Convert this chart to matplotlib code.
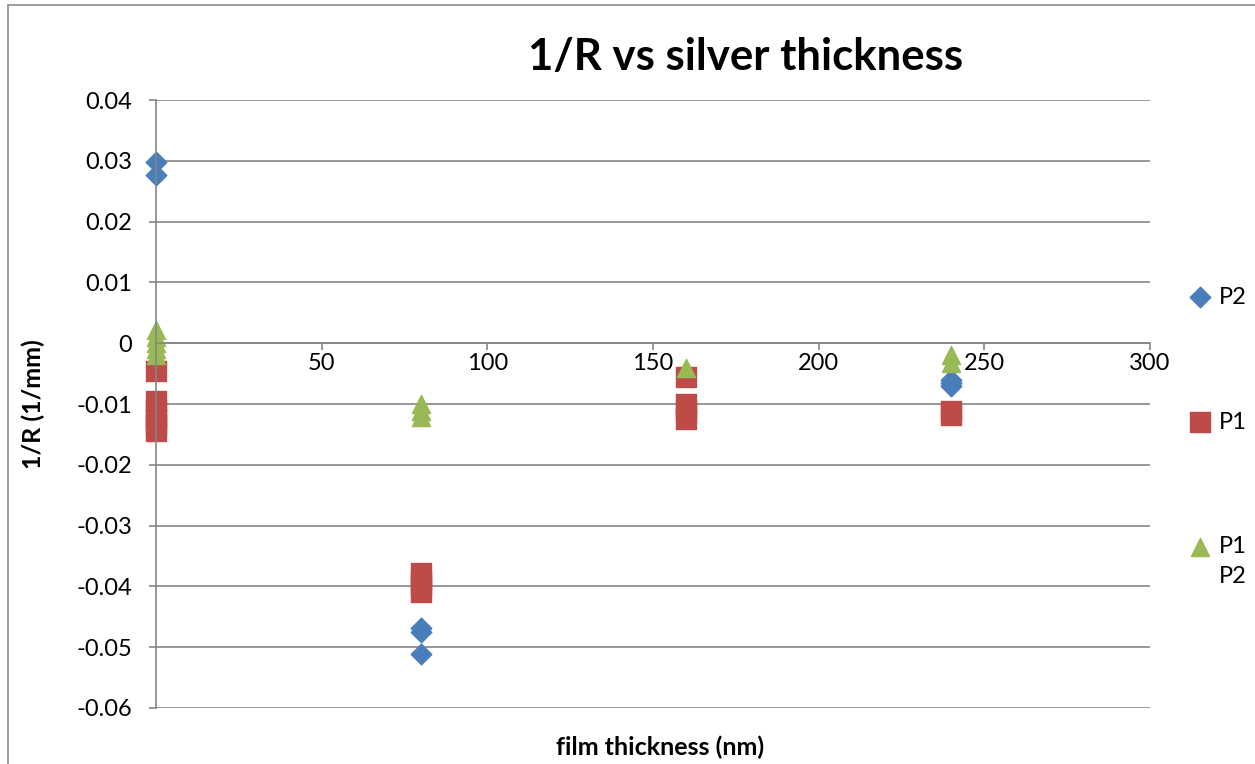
import matplotlib.pyplot as plt
from matplotlib.patches import Rectangle

plt.rcParams['font.family'] = ['Lato', 'DejaVu Sans']

# thickness (nm) and 1/R (1/mm) for each series
p2_x = [0, 0, 80, 80, 80, 240, 240, 240]
p2_y = [0.0298, 0.0276, -0.0468, -0.0475, -0.0512, -0.0060, -0.0065, -0.0070]

p1_x = [0, 0, 0, 0, 0, 0, 80, 80, 80, 80, 160, 160, 160, 160, 240, 240]
p1_y = [-0.0045, -0.0095, -0.0110, -0.0125, -0.0135, -0.0145,
        -0.0378, -0.0390, -0.0400, -0.0410,
        -0.0055, -0.0100, -0.0112, -0.0125,
        -0.0112, -0.0118]

p12_x = [0, 0, 0, 0, 0, 80, 80, 80, 160, 240, 240]
p12_y = [0.0022, 0.0010, 0.0, -0.0010, -0.0020,
         -0.0100, -0.0112, -0.0122, -0.0040, -0.0020, -0.0032]

xticks = [0, 50, 100, 150, 200, 250, 300]
yticks = [0.04, 0.03, 0.02, 0.01, 0, -0.01, -0.02, -0.03, -0.04, -0.05, -0.06]

fig = plt.figure(figsize=(12.55, 7.64), dpi=100)
ax = fig.add_axes([0.1243, 0.0733, 0.7920, 0.7958])

# outer chart frame
fig.patches.append(Rectangle((8 / 1255, -0.1), 2, 1.1 - 5 / 764, transform=fig.transFigure,
                             fill=False, edgecolor='#8c8c8c', linewidth=1.2))

ax.scatter(p2_x, p2_y, marker='D', s=110, color='#4a7ebb', label='P2', zorder=2, clip_on=False)
ax.scatter(p1_x, p1_y, marker='s', s=200, color='#be4b48', label='P1', zorder=2, clip_on=False)
ax.scatter(p12_x, p12_y, marker='^', s=170, color='#98b954', label='P1\nP2', zorder=2.1, clip_on=False)

ax.set_xlim(0, 300)
ax.set_ylim(-0.06, 0.04)
ax.set_xticks(xticks)
ax.set_yticks(yticks)
ax.set_yticklabels(['0' if v == 0 else f'{v:.2f}' for v in yticks])

for v in yticks:
    ax.axhline(v, color='#868686', linewidth=1.2, zorder=1)

for s in ['top', 'right']:
    ax.spines[s].set_visible(False)
ax.spines['bottom'].set_position(('data', 0))
for s in ['bottom', 'left']:
    ax.spines[s].set_color('#868686')
    ax.spines[s].set_linewidth(1.2)
ax.tick_params(axis='both', colors='#868686', labelcolor='black', labelsize=17, length=5, width=1.2)
ax.tick_params(axis='y', pad=12)
ax.tick_params(axis='x', pad=2)

ax.set_title('1/R vs silver thickness', fontsize=31.5, fontweight='bold', x=0.593, y=1.035)
ax.set_xlabel('film thickness (nm)', fontsize=18, fontweight='bold')
ax.xaxis.set_label_coords(0.507, -0.045)
ax.set_ylabel('1/R (1/mm)', fontsize=18, fontweight='bold')
ax.yaxis.set_label_coords(-0.112, 0.5)

leg = ax.legend(loc='center left', bbox_to_anchor=(1.038, 0.446), frameon=False, fontsize=17,
                labelspacing=4.4, handlelength=1.0, handletextpad=0.3, borderpad=0, borderaxespad=0)
leg.get_texts()[2].set_linespacing(1.5)
# keep each marker level with the first line of its label
for col in leg._legend_handle_box.get_children():
    for row in col.get_children():
        row.align = 'top'

plt.savefig('out.png')
